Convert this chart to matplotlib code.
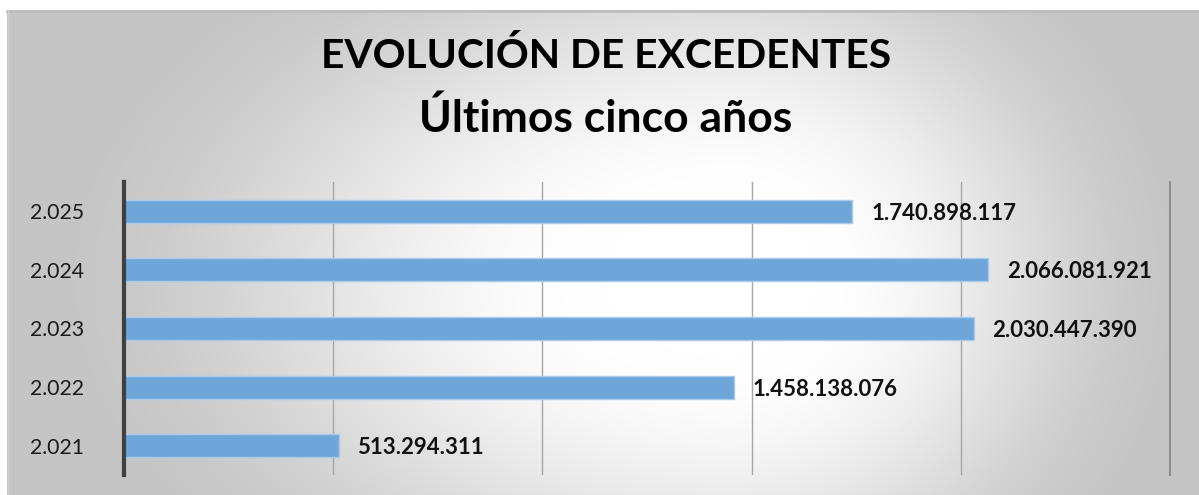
import numpy as np
import matplotlib
matplotlib.use("Agg")
import matplotlib.pyplot as plt

# ---- data ----
years = ["2.021", "2.022", "2.023", "2.024", "2.025"]
values = [513294311, 1458138076, 2030447390, 2066081921, 1740898117]
value_labels = ["513.294.311", "1.458.138.076", "2.030.447.390", "2.066.081.921", "1.740.898.117"]
title_line1 = "EVOLUCIÓN DE EXCEDENTES"
title_line2 = "Últimos cinco años"

W, H = 1199, 495
DPI = 100
plt.rcParams['font.family'] = ['Lato', 'DejaVu Sans']

fig = plt.figure(figsize=(W / DPI, H / DPI), dpi=DPI, facecolor="white")

# ---- gradient background panel ----
bx0, by0 = 7, 10  # pixel offsets (left, top)
bg_ax = fig.add_axes([bx0 / W, 0, (W - bx0) / W, (H - by0) / H])
bg_ax.set_axis_off()
nx, ny = W - bx0, H - by0
xx, yy = np.meshgrid(np.arange(nx) + bx0, np.arange(ny) + by0)
cx, cy = 730.0, 280.0
rx = np.where(xx < cx, 700.0, 470.0)
ry = 430.0
t = np.sqrt(((xx - cx) / rx) ** 2 + ((yy - cy) / ry) ** 2)
s = np.clip((t - 0.18) / 0.82, 0, 1)
s = s * s * (3 - 2 * s)
g = (255 - 58 * s) / 255.0
img = np.dstack([g, g, g])
bg_ax.imshow(img, aspect="auto", extent=[0, 1, 0, 1], origin="upper")
bg_ax.set_xlim(0, 1)
bg_ax.set_ylim(0, 1)
bg_ax.plot([0, 1], [0.997, 0.997], color="#bdbdbd", lw=2, transform=bg_ax.transAxes, clip_on=False)
bg_ax.plot([0.0008, 0.0008], [0, 1], color="#cfcfcf", lw=1, transform=bg_ax.transAxes, clip_on=False)

# ---- bar chart ----
px0, px1 = 124, 1170
py0, py1 = 182, 475
ax = fig.add_axes([px0 / W, (H - py1) / H, (px1 - px0) / W, (py1 - py0) / H])
ax.patch.set_alpha(0)

ypos = np.arange(len(years))
ax.barh(ypos, values, height=0.39, color="#6FA6D9", edgecolor="#A8CBEB", linewidth=1.0, zorder=3)

ax.set_xlim(0, 2.5e9)
ax.set_ylim(-0.5, len(years) - 0.5)
ax.set_xticks(np.arange(0, 2.5e9 + 1, 5e8))
ax.set_xticklabels([])
ax.tick_params(axis="x", length=0)
ax.grid(axis="x", color="#a6a6a6", linewidth=1.0, zorder=1)
ax.set_yticks(ypos)
ax.set_yticklabels(years, fontsize=15.3, color="#1a1a1a")
ax.tick_params(axis="y", length=0, pad=29)

for sp in ["top", "bottom"]:
    ax.spines[sp].set_visible(False)
ax.spines["left"].set_color("#404040")
ax.spines["left"].set_linewidth(3)
ax.spines["left"].set_zorder(4)
ax.spines["right"].set_color("#8c8c8c")
ax.spines["right"].set_linewidth(1.5)

for y, v, lab in zip(ypos, values, value_labels):
    ax.annotate(lab, xy=(v, y), xytext=(13.5, -1.5), textcoords="offset points",
                ha="left", va="center", fontsize=16, fontweight="bold", color="#111111")

# ---- title ----
fig.text(606 / W, (H - 68) / H, title_line1, ha="center", va="baseline",
         fontsize=29.3, fontweight="bold", color="#000000")
fig.text(606 / W, (H - 132) / H, title_line2, ha="center", va="baseline",
         fontsize=32, fontweight="bold", color="#000000")

fig.savefig("out.png", dpi=DPI, facecolor="white")
